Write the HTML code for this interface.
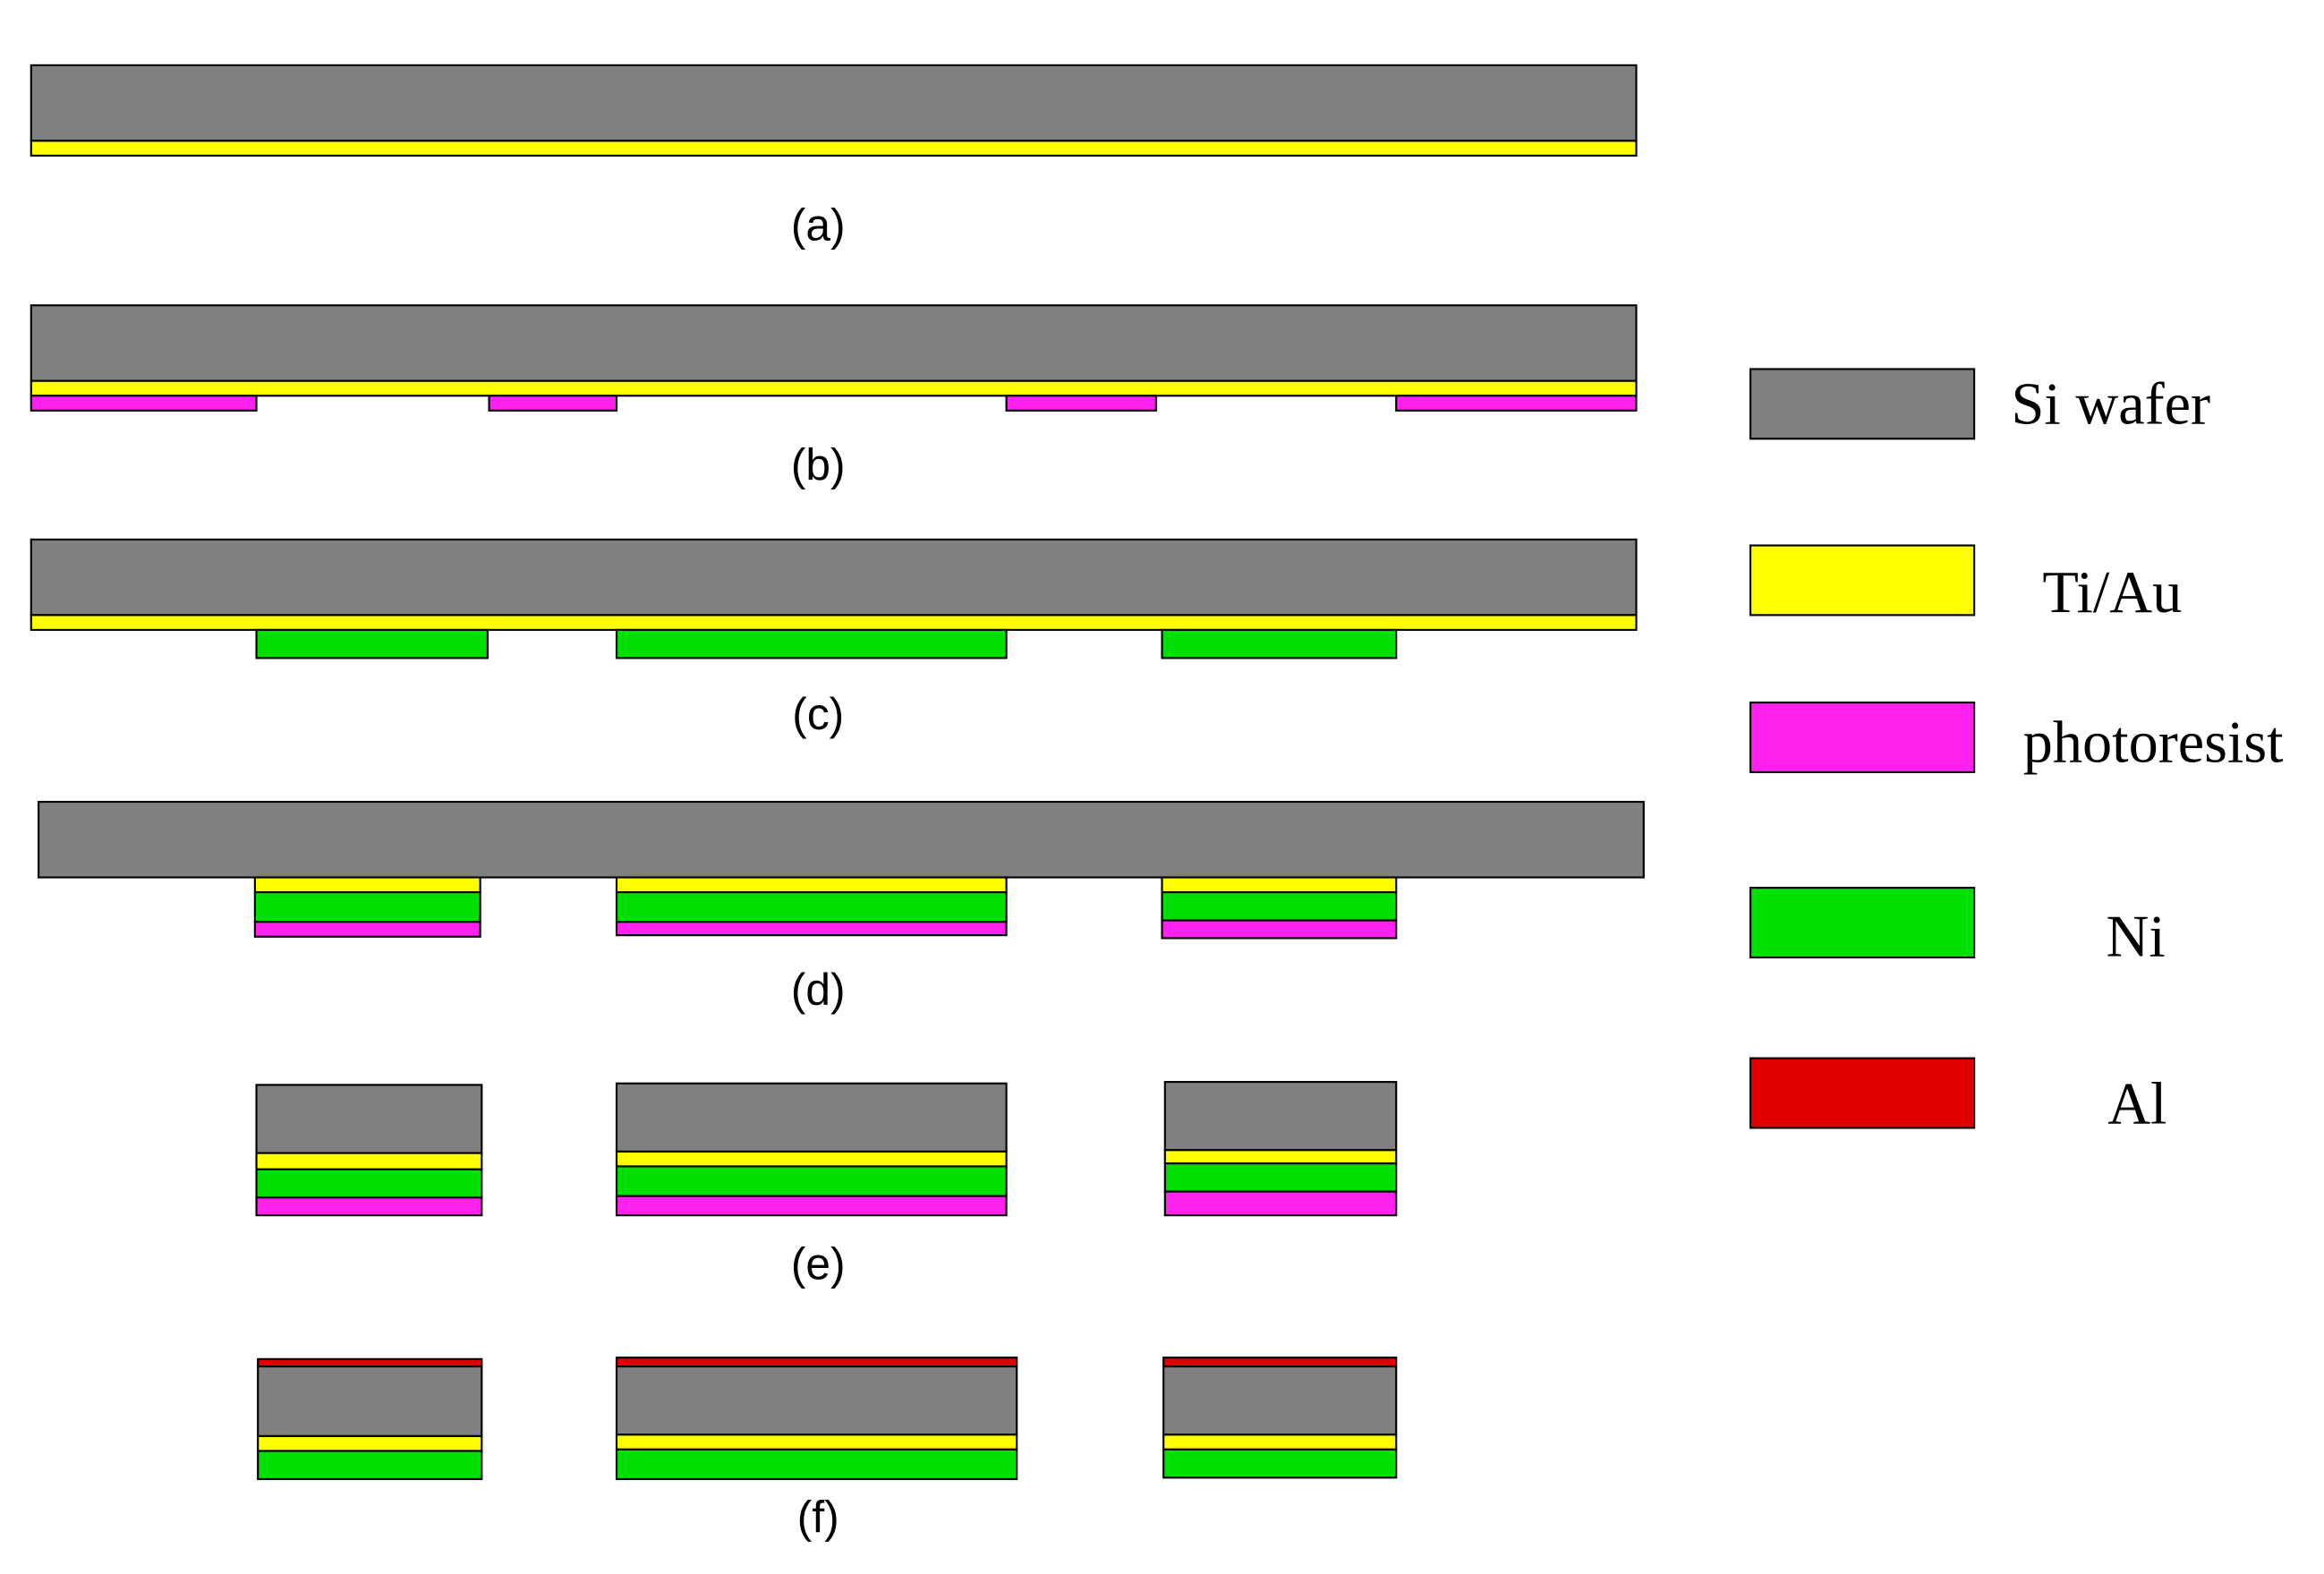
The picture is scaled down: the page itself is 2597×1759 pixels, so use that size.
<!DOCTYPE html>
<html><head><meta charset="utf-8"><style>html,body{margin:0;padding:0;background:#fff}svg{display:block}</style></head>
<body>
<svg width="2597" height="1759" viewBox="0 0 1568 1062" xmlns="http://www.w3.org/2000/svg">
<g stroke="#000" stroke-width="1.3">
<rect x="21" y="44" width="1083" height="51" fill="#808080"/>
<rect x="21" y="95" width="1083" height="10" fill="#ffff00"/>
<rect x="21" y="206" width="1083" height="51" fill="#808080"/>
<rect x="21" y="257" width="1083" height="10" fill="#ffff00"/>
<rect x="21" y="267" width="152" height="10" fill="#ff22ee"/>
<rect x="330" y="267" width="86" height="10" fill="#ff22ee"/>
<rect x="679" y="267" width="101" height="10" fill="#ff22ee"/>
<rect x="942" y="267" width="162" height="10" fill="#ff22ee"/>
<rect x="21" y="364" width="1083" height="51" fill="#808080"/>
<rect x="21" y="415" width="1083" height="10" fill="#ffff00"/>
<rect x="173" y="425" width="156" height="19" fill="#00e000"/>
<rect x="416" y="425" width="263" height="19" fill="#00e000"/>
<rect x="784" y="425" width="158" height="19" fill="#00e000"/>
<rect x="26" y="541" width="1083" height="51" fill="#808080"/>
<rect x="172" y="592" width="152" height="10" fill="#ffff00"/>
<rect x="172" y="602" width="152" height="20" fill="#00e000"/>
<rect x="172" y="622" width="152" height="10" fill="#ff22ee"/>
<rect x="416" y="592" width="263" height="10" fill="#ffff00"/>
<rect x="416" y="602" width="263" height="20" fill="#00e000"/>
<rect x="416" y="622" width="263" height="9" fill="#ff22ee"/>
<rect x="784" y="592" width="158" height="10" fill="#ffff00"/>
<rect x="784" y="602" width="158" height="19" fill="#00e000"/>
<rect x="784" y="621" width="158" height="12" fill="#ff22ee"/>
<rect x="173" y="732" width="152" height="46" fill="#808080"/>
<rect x="173" y="778" width="152" height="11" fill="#ffff00"/>
<rect x="173" y="789" width="152" height="19" fill="#00e000"/>
<rect x="173" y="808" width="152" height="12" fill="#ff22ee"/>
<rect x="416" y="731" width="263" height="46" fill="#808080"/>
<rect x="416" y="777" width="263" height="10" fill="#ffff00"/>
<rect x="416" y="787" width="263" height="20" fill="#00e000"/>
<rect x="416" y="807" width="263" height="13" fill="#ff22ee"/>
<rect x="786" y="730" width="156" height="46" fill="#808080"/>
<rect x="786" y="776" width="156" height="9" fill="#ffff00"/>
<rect x="786" y="785" width="156" height="19" fill="#00e000"/>
<rect x="786" y="804" width="156" height="16" fill="#ff22ee"/>
<rect x="174" y="917" width="151" height="5" fill="#e00000"/>
<rect x="174" y="922" width="151" height="47" fill="#808080"/>
<rect x="174" y="969" width="151" height="10" fill="#ffff00"/>
<rect x="174" y="979" width="151" height="19" fill="#00e000"/>
<rect x="416" y="916" width="270" height="6" fill="#e00000"/>
<rect x="416" y="922" width="270" height="46" fill="#808080"/>
<rect x="416" y="968" width="270" height="10" fill="#ffff00"/>
<rect x="416" y="978" width="270" height="20" fill="#00e000"/>
<rect x="785" y="916" width="157" height="6" fill="#e00000"/>
<rect x="785" y="922" width="157" height="46" fill="#808080"/>
<rect x="785" y="968" width="157" height="10" fill="#ffff00"/>
<rect x="785" y="978" width="157" height="19" fill="#00e000"/>
<rect x="1181" y="249" width="151" height="47" fill="#808080"/>
<rect x="1181" y="368" width="151" height="47" fill="#ffff00"/>
<rect x="1181" y="474" width="151" height="47" fill="#ff22ee"/>
<rect x="1181" y="599" width="151" height="47" fill="#00e000"/>
<rect x="1181" y="714" width="151" height="47" fill="#e00000"/>
</g>
<g font-family="'Liberation Sans',sans-serif" font-size="30" text-anchor="middle" fill="#000">
<text x="552" y="162">(a)</text>
<text x="552" y="324">(b)</text>
<text x="552" y="492">(c)</text>
<text x="552" y="678">(d)</text>
<text x="552" y="863">(e)</text>
<text x="552" y="1034">(f)</text>
</g>
<g font-family="'Liberation Serif',serif" font-size="40" fill="#000">
<text x="1357" y="286">Si wafer</text>
<text x="1378" y="413">Ti/Au</text>
<text x="1365" y="514">photoresist</text>
<text x="1421" y="645">Ni</text>
<text x="1422" y="758">Al</text>
</g>
</svg>
</body></html>
